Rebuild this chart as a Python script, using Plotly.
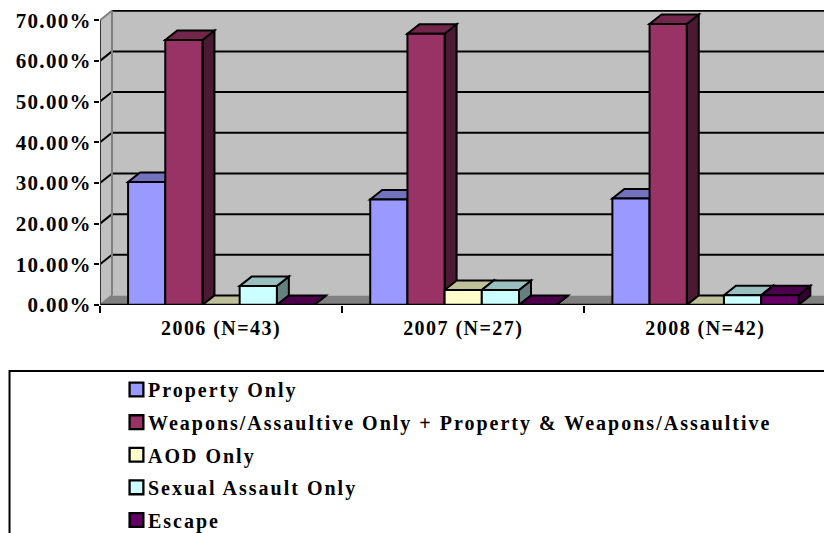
import plotly.graph_objects as go

categories = ["2006 (N=43)", "2007 (N=27)", "2008 (N=42)"]
series_names = [
    "Property Only",
    "Weapons/Assaultive Only + Property & Weapons/Assaultive",
    "AOD Only",
    "Sexual Assault Only",
    "Escape",
]
property_only = [30.23, 25.93, 26.19]
weapons = [65.12, 66.67, 69.05]
aod_only = [0.0, 3.70, 0.0]
sexual_assault = [4.65, 3.70, 2.38]
escape = [0.0, 0.0, 2.38]
series_values = [property_only, weapons, aod_only, sexual_assault, escape]
colors = ["#9999FF", "#993366", "#FFFFCC", "#CCFFFF", "#660066"]
y_ticks = [0, 10, 20, 30, 40, 50, 60, 70]

FONT = "Liberation Serif"
DX = 0.0495
DY = 2.33
X_END = 3.023
BARGAP = 0.232
EDGE = "#000000"


def shade(hex_color, k):
    r, g, b = (int(hex_color[i:i + 2], 16) for i in (1, 3, 5))
    return f"rgb({int(r * k)},{int(g * k)},{int(b * k)})"


def poly(points):
    return "M" + " L".join(f"{x:.4f},{y:.4f}" for x, y in points) + " Z"


def line_path(points):
    return "M" + " L".join(f"{x:.4f},{y:.4f}" for x, y in points)


shapes = []
# back wall, side wall, floor
shapes.append(dict(type="path", path=poly([(DX, DY), (3 + DX, DY), (3 + DX, 70 + DY), (DX, 70 + DY)]),
                   fillcolor="#C0C0C0", line=dict(width=0), layer="below"))
shapes.append(dict(type="path", path=poly([(0, 0), (DX, DY), (DX, 70 + DY), (0, 70)]),
                   fillcolor="#C0C0C0", line=dict(width=0), layer="below"))
shapes.append(dict(type="path", path=poly([(0, 0), (3, 0), (3 + DX, DY), (DX, DY)]),
                   fillcolor="#808080", line=dict(width=0), layer="below"))
# gridlines on the walls
for v in y_ticks[1:]:
    diag = "#808080" if v == 70 else EDGE
    shapes.append(dict(type="path", path=line_path([(DX, v + DY), (3 + DX, v + DY)]),
                       line=dict(color=EDGE, width=2), layer="below"))
    shapes.append(dict(type="path", path=line_path([(0, v), (DX, v + DY)]),
                       line=dict(color=diag, width=2), layer="below"))
shapes.append(dict(type="path", path=line_path([(DX, DY), (DX, 70 + DY)]),
                   line=dict(color="#808080", width=2), layer="below"))
shapes.append(dict(type="path", path=line_path([(0, 0), (DX, DY)]),
                   line=dict(color="#808080", width=2), layer="below"))

# depth faces of every bar, computed from the series values
n = len(series_values)
bw = (1 - BARGAP) / n
for s, values in enumerate(series_values):
    for c, v in enumerate(values):
        left = c + 0.5 - (1 - BARGAP) / 2 + s * bw
        right = left + bw
        shapes.append(dict(type="path",
                           path=poly([(right, 0), (right + DX, DY), (right + DX, v + DY), (right, v)]),
                           fillcolor=shade(colors[s], 0.5), line=dict(color=EDGE, width=2), layer="below"))
        shapes.append(dict(type="path",
                           path=poly([(left, v), (right, v), (right + DX, v + DY), (left + DX, v + DY)]),
                           fillcolor=shade(colors[s], 0.75), line=dict(color=EDGE, width=2), layer="below"))

# legend frame, running off the page like the reference
shapes.append(dict(type="rect", xref="paper", yref="paper", x0=-0.1236, x1=1.1, y0=-0.9, y1=-0.2237,
                   line=dict(color=EDGE, width=2), fillcolor="rgba(0,0,0,0)", layer="above"))

fig = go.Figure()
for s, (name, values) in enumerate(zip(series_names, series_values)):
    fig.add_trace(go.Bar(
        x=[0.5, 1.5, 2.5], y=values, name=name, legendgroup=name,
        marker=dict(color=colors[s], line=dict(color=EDGE, width=2)),
        cliponaxis=False,
    ))

fig.add_trace(go.Scatter(x=[0, 3], y=[0, 0], mode="lines", line=dict(color=EDGE, width=2.5),
                         showlegend=False, cliponaxis=False, hoverinfo="skip"))
fig.add_trace(go.Scatter(x=[0, 0], y=[0, 70], mode="lines", line=dict(color="#333333", width=2),
                         showlegend=False, cliponaxis=False, hoverinfo="skip"))

fig.update_layout(
    width=824, height=525,
    margin=dict(l=91.5, r=0, t=2, b=228, autoexpand=False),
    paper_bgcolor="white", plot_bgcolor="white",
    barmode="group", bargap=BARGAP, bargroupgap=0,
    shapes=shapes,
    font=dict(family=FONT, color="#000000"),
    showlegend=True,
    legend=dict(
        x=0.0109, y=-0.2205, xanchor="left", yanchor="top", xref="paper", yref="paper",
        traceorder="grouped", tracegroupgap=3.6,
        font=dict(family=FONT, size=20, weight="bold", color="#000000"),
        bgcolor="rgba(0,0,0,0)", borderwidth=0,
    ),
    xaxis=dict(
        range=[0, X_END], tickmode="array", tickvals=[0.5, 1.5, 2.5], ticktext=categories,
        ticks="", showgrid=False, zeroline=False, showline=False, ticklabelstandoff=9,
        tickfont=dict(family=FONT, size=20, weight="bold", color="#000000"),
        minor=dict(tickmode="array", tickvals=[0, 1, 2, 3], ticks="outside", ticklen=7, tickwidth=2,
                   tickcolor=EDGE, showgrid=False),
    ),
    yaxis=dict(
        range=[0, 72.5], tickmode="array", tickvals=y_ticks,
        ticktext=[f"{v:.2f}%" for v in y_ticks],
        ticks="outside", ticklen=5, tickwidth=2, tickcolor=EDGE, ticklabelstandoff=-2,
        showgrid=False, zeroline=False, showline=False,
        tickfont=dict(family=FONT, size=21, weight="bold", color="#000000"),
    ),
)

spacing_css = (
    "var s=document.createElement('style');"
    "s.textContent='html,body{overflow:hidden}"
    ".legendtext{letter-spacing:2px}"
    ".legend .scrollbox{clip-path:none !important}"
    ".legendpoints{transform:translate(5.5px,0) scale(1.15)}"
    ".xtick text{letter-spacing:1.45px}"
    ".ytick text{letter-spacing:1.3px}';"
    "document.head.appendChild(s);"
)
fig.write_html("out.html", config=dict(displayModeBar=False), post_script=spacing_css)
